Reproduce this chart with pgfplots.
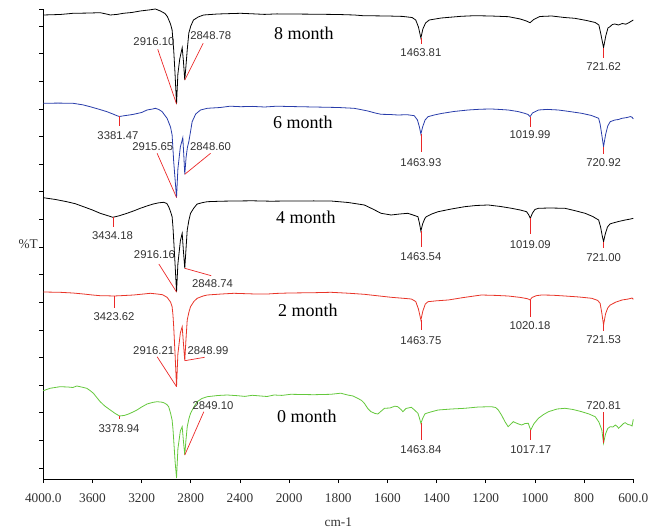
\documentclass[border=0pt]{standalone}
\usepackage{pgfplots}
\pgfplotsset{compat=1.18}
\usepackage{fontspec}
\setmainfont{Liberation Serif}
\newfontfamily\arial{Liberation Sans}

\definecolor{spblue}{RGB}{40,60,170}
\definecolor{spred}{RGB}{232,52,40}
\definecolor{spgreen}{RGB}{100,200,60}
\definecolor{pkred}{RGB}{235,40,40}
\definecolor{lab}{RGB}{50,50,50}

\tikzset{
    num/.style={font=\arial\fontsize{11.3}{12}\selectfont, text=lab, inner sep=0pt},
    mon/.style={font=\fontsize{18}{20}\selectfont, text=black, inner sep=0pt},
}

\begin{document}
\begin{tikzpicture}
% page = whole figure, 1pt per pixel
\path[use as bounding box] (-43.3pt,-51pt) rectangle (614.7pt,479pt);
\begin{axis}[
    at={(0pt,0pt)}, anchor=south west,
    scale only axis,
    width=590pt, height=470pt,
    % the spectrum is drawn at twice the scale below 2000 cm-1
    x coord trafo/.code={\pgfmathparse{#1>=2000 ? #1 : 2*#1-2000}},
    x coord inv trafo/.code={\pgfmathparse{#1>=2000 ? #1 : (#1+2000)/2}},
    x dir=reverse,
    xmin=600, xmax=4000,
    ymin=0, ymax=470,
    axis lines*=left,
    axis line style={black, line width=0.6pt},
    tick align=outside,
    major tick length=4pt,
    tick style={black, line width=0.6pt},
    xtick={4000,3600,3200,2800,2400,2000,1800,1600,1400,1200,1000,800,600},
    xticklabels={4000.0,3600,3200,2800,2400,2000,1800,1600,1400,1200,1000,800,600.0},
    ytick={11,38.625,66.25,93.875,121.5,149.125,176.75,204.375,232,259.625,287.25,314.875,342.5,370.125,397.75,425.375,453,470},
    yticklabels={},
    /pgf/number format/assume math mode=true,
    ticklabel style={font=\fontsize{13.3}{14}\selectfont, text=lab},
    xticklabel style={yshift=-7pt},
    xlabel={cm-1},
    ylabel={\%T},
    label style={font=\fontsize{13.3}{14}\selectfont, text=lab},
    xlabel style={at={(axis description cs:0.5,0)}, yshift=-35pt},
    ylabel style={rotate=-90, at={(axis description cs:0,0.5)}, xshift=-2pt},
    clip=false,
    every axis plot/.append style={line width=0.8pt},
    pk/.style={pkred, line width=0.7pt},
]

% ---- 8 month
\addplot[black] coordinates {
 (4000,464) (3920,464.3) (3864,464.5) (3800,465.2) (3758,465.7) (3650,465.9) (3537,466.3)
 (3480,464.8) (3455,464) (3400,464.6) (3349,465.7) (3280,466.5) (3211,468) (3130,469.2)
 (3088,470) (3047,468) (3010,465.5) (2990,462.3) (2965,455) (2952,449) (2939,429)
 (2928,405) (2916,375) (2905,405) (2890,420) (2870,431.3) (2860,418) (2849,399)
 (2840,412) (2829,429) (2816,446) (2800,453) (2778,459) (2740,462) (2696,464)
 (2582,465) (2480,465.4) (2394,465.7) (2300,465.2) (2200,464.6) (2100,465.1) (2000,465)
 (1900,464.8) (1800,464.5) (1735,464) (1700,463.3) (1600,463) (1540,462.6) (1500,461.5)
 (1485,459) (1474,452) (1464,441) (1456,450) (1445,456) (1430,459) (1381,461)
 (1300,462.7) (1246,463.3) (1180,463) (1107,462.3) (1060,460) (1035,458) (1020,456.3)
 (1005,459.5) (980,462.5) (932,463) (880,461.5) (838,460.7) (790,458.5) (755,456.5)
 (740,454) (732,445) (721,431.3) (712,443) (703,451) (695,452.3) (685,454.5) (675,455)
 (660,454) (645,455.5) (630,454.8) (618,456.3) (600,459)
};
% ---- 6 month
\addplot[spblue] coordinates {
 (4000,375.7) (3880,375.9) (3758,375.7) (3680,374.2) (3619,372.3) (3540,369.5) (3482,367.3)
 (3430,364.8) (3401,363.3) (3381,362.5) (3340,363.3) (3300,364) (3265,364.7) (3200,366.5)
 (3156,369) (3110,370) (3088,370.7) (3060,369.5) (3033,367.3) (2993,360.7) (2965,352)
 (2952,344) (2939,317.3) (2928,300) (2916,281.5) (2905,310) (2885,332) (2865,341.3)
 (2857,324) (2849,304.7) (2838,322) (2827,332) (2816,337.3) (2800,349) (2789,357.3)
 (2760,365) (2721,369) (2666,370.7) (2560,371.5) (2480,372.8) (2394,372.3) (2300,372.6)
 (2200,372) (2100,372.8) (2000,372.5) (1900,372) (1800,371.5) (1736,370.7) (1710,369.5)
 (1680,368) (1650,366) (1626,364.7) (1590,364.5) (1558,364) (1520,364.3) (1491,363.3)
 (1478,359) (1470,352) (1464,345) (1457,352) (1447,359) (1435,362.3) (1410,364)
 (1381,365.5) (1330,367.5) (1272,369) (1220,369.8) (1177,370) (1140,369.5) (1109,369)
 (1070,367.5) (1042,365.7) (1028,364.5) (1020,362.3) (1010,366) (986,369) (950,369.6)
 (905,369) (860,367.5) (810,365.7) (770,363.5) (741,360.7) (735,355) (728,344)
 (721,332.3) (713,344) (704,353) (694,357.3) (675,359) (660,359.5) (646,360.7)
 (625,361.5) (612,362.4) (605,361.8) (600,360)
};
% ---- 4 month
\addplot[black] coordinates {
 (4000,281.3) (3900,279.5) (3809,277.3) (3740,275.3) (3673,272.3) (3600,269) (3537,265.7)
 (3480,263.5) (3434,261.7) (3380,263.3) (3319,265.7) (3260,268.3) (3211,270.7) (3150,273.3)
 (3105,275) (3060,276.2) (3020,276.7) (2995,275.5) (2980,272.3) (2965,267.5) (2952,262.3)
 (2945,252) (2939,239) (2928,215) (2916,187) (2905,215) (2885,238) (2870,245.7)
 (2860,228) (2849,210.7) (2840,228) (2829,249) (2815,259) (2802,265.7) (2775,271)
 (2748,275) (2700,276.5) (2666,277.3) (2550,277.8) (2449,278) (2300,278.2) (2150,277.8)
 (2000,278) (1900,278.1) (1830,278) (1760,276.5) (1694,274) (1660,270) (1626,265.7)
 (1585,264) (1550,265) (1517,265.7) (1490,263.5) (1476,262.3) (1470,256) (1464,248)
 (1457,255) (1448,260.5) (1442,262.3) (1420,265) (1394,267.3) (1340,270) (1286,272.3)
 (1240,273.5) (1190,274) (1140,272.5) (1095,270.7) (1060,269) (1034,267.3) (1025,264)
 (1019,260.7) (1010,266) (1000,269.5) (986,270.7) (940,271) (878,270.7) (840,268.5)
 (796,265.7) (765,262.5) (741,259) (733,252) (727,244) (721,237.3) (714,245) (705,252)
 (695,255) (687,255.7) (660,257.5) (633,259) (615,259.8) (600,260.7)
};
% ---- 2 month
\addplot[spred] coordinates {
 (4000,187) (3864,186.7) (3760,186) (3673,185) (3600,184) (3537,183.3) (3480,183.2)
 (3424,183) (3340,183.5) (3265,184) (3200,184.8) (3129,185.7) (3074,185) (3030,184.3)
 (2993,181.7) (2965,177) (2952,172.3) (2945,164) (2939,152.3) (2928,125) (2916,92.3)
 (2905,125) (2885,146) (2870,152.3) (2860,136) (2849,118.3) (2840,138) (2829,159)
 (2815,167) (2802,172.3) (2775,177.5) (2748,180.7) (2700,183) (2666,184) (2550,185)
 (2449,185.7) (2300,185.1) (2176,185) (2100,185.6) (2000,186) (1900,186.3) (1830,186.7)
 (1760,185.8) (1694,184.7) (1640,183.2) (1585,181.7) (1540,180.8) (1503,180) (1485,177.5)
 (1474,170) (1464,159) (1456,168) (1446,175) (1435,177.3) (1400,178.2) (1353,179)
 (1290,181.5) (1218,184) (1160,183.6) (1109,183) (1060,181.6) (1035,180.5) (1027,180)
 (1020,179) (1012,181.5) (995,183.3) (973,184) (930,183.8) (878,183) (820,182)
 (769,180.7) (745,178.6) (735,175.7) (728,166) (721,154) (713,165) (704,171)
 (694,174) (670,177) (646,179) (620,180) (605,181) (600,179.7)
};
% ---- 0 month
\addplot[spgreen] coordinates {
 (4000,88.3) (3945,90.7) (3905,91.5) (3864,92.3) (3800,92) (3760,91.5) (3727,93)
 (3690,92) (3646,90.7) (3620,88.5) (3592,85.7) (3565,81.5) (3537,77.3) (3500,73)
 (3455,69) (3415,65.5) (3379,63) (3340,63.6) (3306,65) (3270,67) (3238,69) (3200,72)
 (3156,75) (3110,76.6) (3074,77.3) (3040,76.9) (3020,76.3) (2995,74.5) (2980,72.3)
 (2965,66) (2952,59) (2945,50) (2939,39) (2928,18) (2916,1) (2905,30) (2885,48)
 (2870,52.3) (2860,38) (2849,24) (2840,38) (2829,52.3) (2815,60.5) (2802,65.7)
 (2775,72) (2748,77.3) (2710,80.5) (2666,82.3) (2580,83.5) (2503,84) (2420,83.3)
 (2360,82.6) (2300,83.7) (2231,83) (2180,82.5) (2122,84) (2060,83.6) (1993,84.7)
 (1900,84.3) (1830,84.7) (1790,85.8) (1762,84) (1740,83) (1721,80.7) (1705,78.5)
 (1694,75.7) (1680,70.5) (1667,67.3) (1650,65.5) (1639,65) (1625,68) (1612,70.7)
 (1590,71) (1570,72.8) (1558,72.3) (1545,69.5) (1537,67.3) (1525,70.5) (1503,71.7)
 (1490,69) (1476,65.7) (1470,61) (1464,55.7) (1456,61) (1448,65) (1442,65.7)
 (1420,67.3) (1394,69) (1340,70) (1286,70.7) (1230,72) (1177,72.3) (1160,71.5)
 (1149,69) (1135,63.5) (1122,57.3) (1109,52.3) (1098,55) (1088,57.3) (1072,55.5)
 (1054,54) (1040,55.5) (1027,55.7) (1022,52) (1017,49) (1005,55) (986,60.7) (965,64.5)
 (945,67.3) (910,70) (878,70.7) (845,69.5) (810,67.3) (780,65) (755,62.3) (740,57)
 (728,49) (721,35.7) (713,45) (704,50.5) (694,52.3) (683,52) (673,54) (665,52.5)
 (660,50.7) (648,53.5) (640,55.5) (633,56.3) (622,54.5) (612,54) (605,53) (600,59.7)
};

% ---- peak markers (red leader lines)
\addplot[pk] coordinates {(2916,375) (3069,429.7)};
\addplot[pk] coordinates {(2849,399) (2699,435.7)};
\addplot[pk] coordinates {(1464,441) (1464,435)};
\addplot[pk] coordinates {(721,431.3) (721,421)};

\addplot[pk] coordinates {(3381,362.5) (3381,353)};
\addplot[pk] coordinates {(2916,281.5) (3074,325.7)};
\addplot[pk] coordinates {(2849,304.7) (2639,325.7)};
\addplot[pk] coordinates {(1464,345) (1464,327)};
\addplot[pk] coordinates {(1020,362.3) (1020,352.3)};
\addplot[pk] coordinates {(721,332.3) (721,325)};

\addplot[pk] coordinates {(3434,261.7) (3434,252)};
\addplot[pk] coordinates {(2916,187) (3060,215)};
\addplot[pk] coordinates {(2849,210.7) (2634,203.3)};
\addplot[pk] coordinates {(1464,248) (1464,232.3)};
\addplot[pk] coordinates {(1019,260.7) (1019,245)};
\addplot[pk] coordinates {(721,237.3) (721,231)};

\addplot[pk] coordinates {(3424,183) (3424,170.7)};
\addplot[pk] coordinates {(2916,92.3) (3074,122.3)};
\addplot[pk] coordinates {(2849,118.3) (2688,121.7)};
\addplot[pk] coordinates {(1464,159) (1464,149)};
\addplot[pk] coordinates {(1020,179) (1020,162.3)};
\addplot[pk] coordinates {(721,154) (721,148.3)};

\addplot[pk] coordinates {(3379,63) (3379,60)};
\addplot[pk] coordinates {(2849,24) (2694,67.3)};
\addplot[pk] coordinates {(1464,55.7) (1464,39)};
\addplot[pk] coordinates {(1017,49) (1017,39)};
\addplot[pk] coordinates {(721,35.7) (721,67.3)};

% ---- peak labels
\node[num] at (axis cs:3100,437) {2916.10};
\node[num] at (axis cs:2637,443) {2848.78};
\node[num] at (axis cs:1464,426) {1463.81};
\node[num] at (axis cs:721,412) {721.62};

\node[num] at (axis cs:3393,343) {3381.47};
\node[num] at (axis cs:3109,332.3) {2915.65};
\node[num] at (axis cs:2639,332.3) {2848.60};
\node[num] at (axis cs:1464,316) {1463.93};
\node[num] at (axis cs:1020,344) {1019.99};
\node[num] at (axis cs:721,316.5) {720.92};

\node[num] at (axis cs:3437,243) {3434.18};
\node[num] at (axis cs:3096,224) {2916.16};
\node[num] at (axis cs:2623,195.7) {2848.74};
\node[num] at (axis cs:1464,222) {1463.54};
\node[num] at (axis cs:1019,234.7) {1019.09};
\node[num] at (axis cs:721,221.7) {721.00};

\node[num] at (axis cs:3424,162.3) {3423.62};
\node[num] at (axis cs:3102,128.3) {2916.21};
\node[num] at (axis cs:2660,128.3) {2848.99};
\node[num] at (axis cs:1464,138.7) {1463.75};
\node[num] at (axis cs:1020,153) {1020.18};
\node[num] at (axis cs:721,139) {721.53};

\node[num] at (axis cs:3384,50.7) {3378.94};
\node[num] at (axis cs:2619,73.3) {2849.10};
\node[num] at (axis cs:1464,29.7) {1463.84};
\node[num] at (axis cs:1017,29.7) {1017.17};
\node[num] at (axis cs:721,73) {720.81};

% ---- sample labels
\node[mon] at (axis cs:1940,446) {8 month};
\node[mon] at (axis cs:1944,357) {6 month};
\node[mon] at (axis cs:1932,262) {4 month};
\node[mon] at (axis cs:1924,169) {2 month};
\node[mon] at (axis cs:1928,63) {0 month};
\end{axis}
\end{tikzpicture}
\end{document}
